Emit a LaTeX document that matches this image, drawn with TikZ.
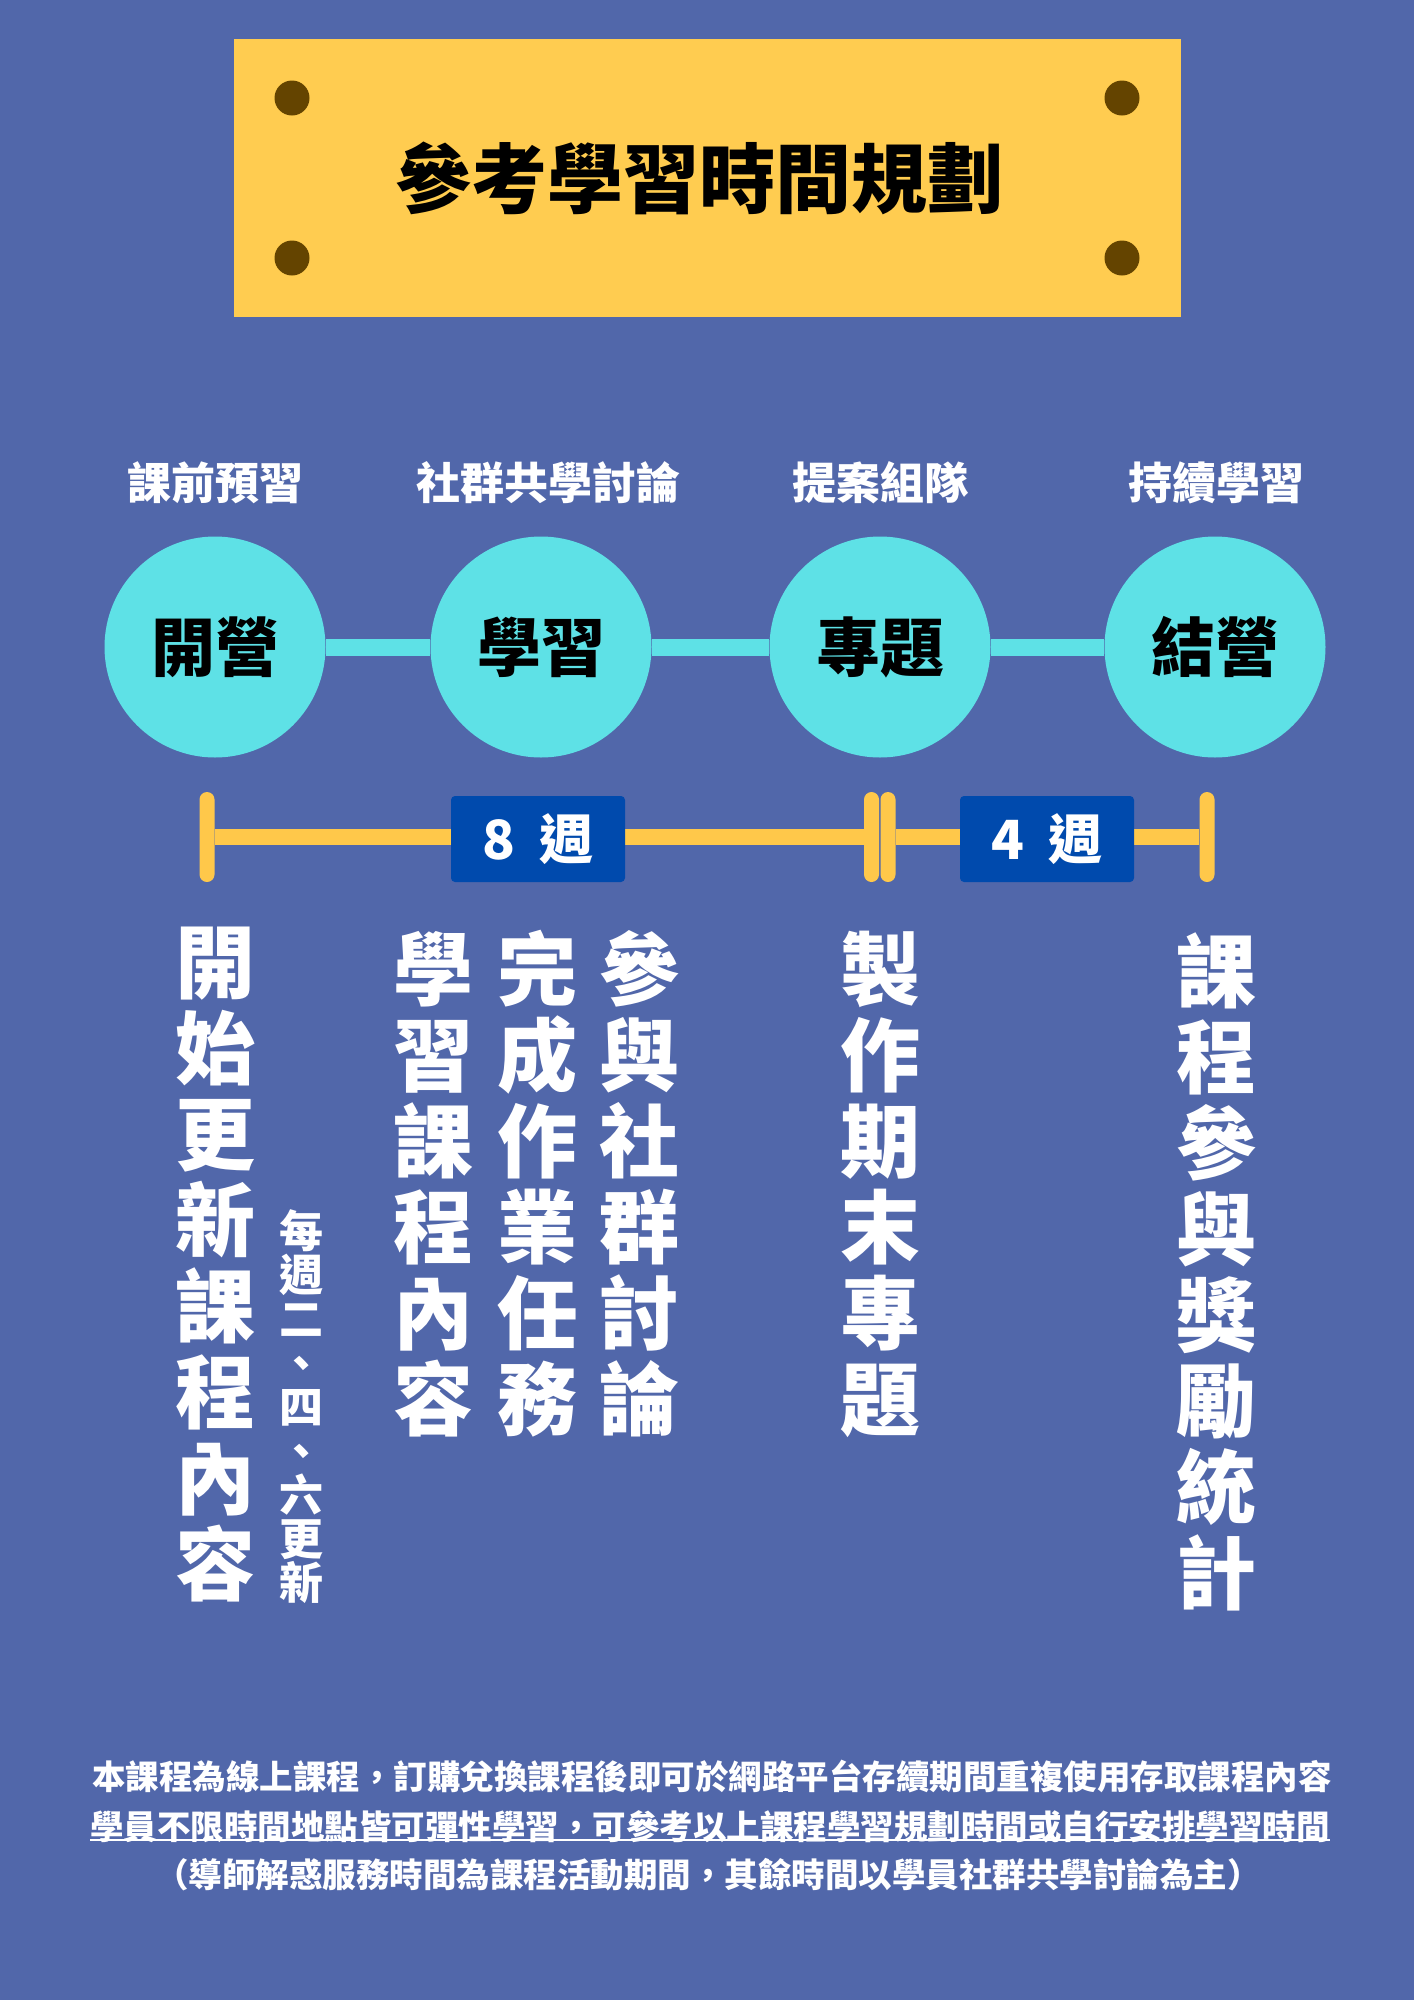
\documentclass[tikz,border=0pt]{standalone}
\usepackage{fontspec}
\setmainfont{Noto Sans CJK TC}
\usetikzlibrary{calc}
\definecolor{bgc}{RGB}{81,103,170}
\definecolor{platec}{RGB}{255,204,80}
\definecolor{boltc}{RGB}{100,68,0}
\definecolor{cyanc}{RGB}{94,225,230}
\definecolor{barc}{RGB}{255,200,74}
\definecolor{boxc}{RGB}{0,74,173}
\tikzset{
  plate/.style={fill=platec, minimum width=947pt, minimum height=278pt, inner sep=0pt},
  titletext/.style={inner sep=0pt, font=\bfseries\fontsize{76}{80}\selectfont, text=black},
  bolt/.style={circle, fill=boltc, minimum size=35pt, inner sep=0pt},
  toplabel/.style={text=white, font=\bfseries\fontsize{44}{48}\selectfont, inner sep=0pt},
  phase/.style={circle, fill=cyanc, minimum size=221pt, inner sep=0pt,
    font=\bfseries\fontsize{64}{68}\selectfont, text=black},
  link/.style={draw=cyanc, line width=17pt},
  tickmark/.style={fill=barc, rounded corners=7.5pt, minimum width=15pt, minimum height=90pt, inner sep=0pt},
  barline/.style={draw=barc, line width=16pt},
  weekbox/.style={fill=boxc, rounded corners=4pt, minimum width=174pt, minimum height=86pt, inner sep=0pt,
    text=white, font=\bfseries\fontsize{54}{58}\selectfont},
  vcol/.style={text=white, align=center, inner sep=0pt, font=\bfseries\fontsize{80}{86}\selectfont},
  vsmall/.style={text=white, align=center, inner sep=0pt, font=\bfseries\fontsize{44}{44}\selectfont},
  note/.style={text=white, inner sep=0pt, font=\bfseries\fontsize{33.5}{40}\selectfont}
}
\begin{document}
\begin{tikzpicture}[x=1pt,y=-1pt]
\fill[bgc] (0,0) rectangle (1414,2000);
\useasboundingbox (0,0) rectangle (1414,2000);

% header plate
\node[plate] (plate) at (707.5,178) {};
\node[titletext] (title) at (699,178) {參考學習時間規劃};
\node[bolt] (bolt1) at (292,98) {};
\node[bolt] (bolt2) at (1122,98) {};
\node[bolt] (bolt3) at (292,258) {};
\node[bolt] (bolt4) at (1122,258) {};

% labels above phases
\node[toplabel] (lab1) at (215,483) {課前預習};
\node[toplabel] (lab2) at (548,483) {社群共學討論};
\node[toplabel] (lab3) at (880,483) {提案組隊};
\node[toplabel] (lab4) at (1216,483) {持續學習};

% phase circles
\node[phase] (c1) at (215,647) {開營};
\node[phase] (c2) at (541,647) {學習};
\node[phase] (c3) at (880,647) {專題};
\node[phase] (c4) at (1215,647) {結營};
\draw[link] (c1) -- (c2);
\draw[link] (c2) -- (c3);
\draw[link] (c3) -- (c4);

% timeline
\node[tickmark] (k1) at (207,837) {};
\node[tickmark] (k2) at (871.5,837) {};
\node[tickmark] (k3) at (888,837) {};
\node[tickmark] (k4) at (1207,837) {};
\draw[barline] (k1) -- (k2);
\draw[barline] (k3) -- (k4);
\node[weekbox] (w8) at (538,839) {8\hspace{0.45em}週};
\node[weekbox] (w4) at (1047,839) {4\hspace{0.45em}週};

% vertical columns
\node[vcol] (colA) at (215,1265) {開\\始\\更\\新\\課\\程\\內\\容};
\node[vsmall] (colB) at (301,1407) {每\\週\\二\\、\\四\\、\\六\\更\\新};
\node[vcol] (colC) at (433,1184) {學\\習\\課\\程\\內\\容};
\node[vcol] (colD) at (537,1184) {完\\成\\作\\業\\任\\務};
\node[vcol] (colE) at (639,1184) {參\\與\\社\\群\\討\\論};
\node[vcol] (colF) at (880,1184) {製\\作\\期\\末\\專\\題};
\node[vcol] (colG) at (1216,1272) {課\\程\\參\\與\\獎\\勵\\統\\計};

% notes
\node[note] (n1) at (712,1777) {本課程為線上課程，訂購兌換課程後即可於網路平台存續期間重複使用存取課程內容};
\node[note] (n2) at (710,1827) {學員不限時間地點皆可彈性學習，可參考以上課程學習規劃時間或自行安排學習時間};
\node[note] (n3) at (708,1875) {（導師解惑服務時間為課程活動期間，其餘時間以學員社群共學討論為主）};
\draw[white, line width=2pt] ($(n2.south west)+(0,-4)$) -- ($(n2.south east)+(0,-4)$);
\end{tikzpicture}
\end{document}
